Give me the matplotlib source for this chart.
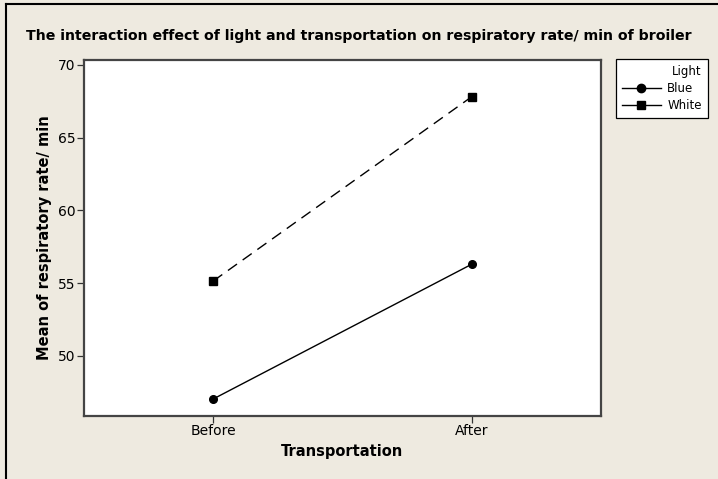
import matplotlib
matplotlib.use("Agg")
import matplotlib.pyplot as plt
from matplotlib.lines import Line2D

# data
transport = ["Before", "After"]
blue_means = [47.05, 56.3]
white_means = [55.15, 67.8]
yticks = [50, 55, 60, 65, 70]

bg = "#EEEAE0"

fig = plt.figure(figsize=(7.18, 4.79), dpi=100, facecolor=bg)
ax = fig.add_axes([0.117, 0.1315, 0.72, 0.7432])
ax.set_facecolor("white")

x = list(range(len(transport)))
ax.plot(x, blue_means, color="black", lw=1.0, marker="o", ms=5.5, label="Blue")
ax.plot(x, white_means, color="black", lw=1.0, ls=(0, (8, 5)), marker="s", ms=5.5,
        label="White")

ax.set_xlim(-0.5, 1.5)
ax.set_ylim(45.88, 70.32)
ax.set_xticks(x)
ax.set_xticklabels(transport)
ax.set_yticks(yticks)
ax.tick_params(labelsize=10, length=5, width=0.9, color="#333333", pad=1)
for s in ax.spines.values():
    s.set_linewidth(1.6)
    s.set_color("#444444")

ax.set_xlabel("Transportation", fontsize=10.5, fontweight="bold", labelpad=4)
ax.set_ylabel("Mean of respiratory rate/ min", fontsize=10.5, fontweight="bold", labelpad=4)

fig.text(0.5, 1 - 36 / 479, "The interaction effect of light and transportation on respiratory rate/ min of broiler",
         ha="center", va="center", fontsize=10.2, fontweight="bold")

# legend box
handles = [Line2D([], [], color="black", lw=1.0, marker="o", ms=6),
           Line2D([], [], color="black", lw=1.0, marker="s", ms=6)]
leg = fig.legend(handles, ["Blue", "White"], title="Light",
                 loc="upper left", bbox_to_anchor=(616 / 718, 1 - 59 / 479),
                 frameon=True, fancybox=False, edgecolor="black", framealpha=1,
                 fontsize=8.5, title_fontsize=8.5, handlelength=3.3,
                 handletextpad=0.55, labelspacing=0.35, borderpad=0.5,
                 borderaxespad=0)
leg.get_frame().set_linewidth(0.9)
leg.get_frame().set_facecolor("white")
leg._legend_box.align = "right"

# outer frame (left and top lines)
fig.add_artist(Line2D([6 / 718, 6 / 718], [0, 1 - 4 / 479], color="black", lw=1.5,
                      transform=fig.transFigure))
fig.add_artist(Line2D([6 / 718, 1], [1 - 4 / 479, 1 - 4 / 479], color="black", lw=1.5,
                      transform=fig.transFigure))

fig.savefig("out.png", dpi=100, facecolor=bg)
